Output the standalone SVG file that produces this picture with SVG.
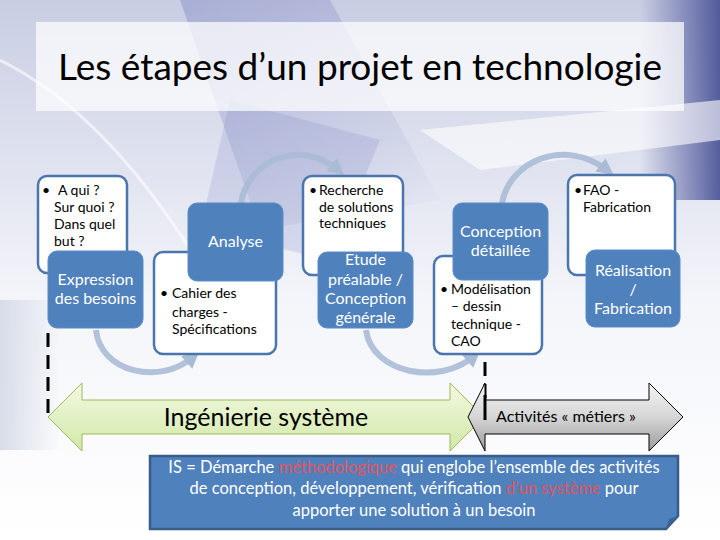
<svg xmlns="http://www.w3.org/2000/svg" width="720" height="540" viewBox="0 0 720 540">
<defs>
<linearGradient id="bg" x1="0" y1="0" x2="0" y2="1">
<stop offset="0" stop-color="#c9cde3"/>
<stop offset="0.3" stop-color="#dfe2ef"/>
<stop offset="0.55" stop-color="#f4f5fa"/>
<stop offset="1" stop-color="#ffffff"/>
</linearGradient>
<linearGradient id="streak" x1="0" y1="0" x2="1" y2="1">
<stop offset="0" stop-color="#6f78bb" stop-opacity="0.6"/>
<stop offset="1" stop-color="#6f78bb" stop-opacity="0"/>
</linearGradient>
<linearGradient id="tr" x1="1" y1="0" x2="0" y2="0">
<stop offset="0" stop-color="#3d4690" stop-opacity="0.85"/>
<stop offset="1" stop-color="#3d4690" stop-opacity="0"/>
</linearGradient>
<linearGradient id="lf" x1="0" y1="0" x2="1" y2="0">
<stop offset="0" stop-color="#d4d9e6" stop-opacity="0.9"/>
<stop offset="1" stop-color="#d4d9e6" stop-opacity="0"/>
</linearGradient>
<linearGradient id="green" x1="0" y1="0" x2="0" y2="1">
<stop offset="0" stop-color="#f3f9e2"/>
<stop offset="1" stop-color="#d2e8a8"/>
</linearGradient>
<linearGradient id="gray" x1="0" y1="0" x2="0" y2="1">
<stop offset="0" stop-color="#f4f4f4"/>
<stop offset="0.5" stop-color="#d6d6d6"/>
<stop offset="1" stop-color="#9a9a9a"/>
</linearGradient>
<marker id="ah" viewBox="0 0 10 10" refX="5" refY="5" markerWidth="2.8" markerHeight="2.8" orient="auto" markerUnits="strokeWidth">
<path d="M0,0 L10,5 L0,10 z" fill="#aabbd6"/>
</marker>
</defs>
<style>
.t{font-family:Lato,"Liberation Sans",sans-serif}
.bul{fill:#ffffff;stroke:#4a76ad;stroke-width:2.5}
.node{fill:#4f81bd;stroke:#5b8bc5;stroke-width:1}
.bt{font-size:14px;fill:#000}
.nt{font-size:16px;fill:#ffffff;text-anchor:middle}
.arc{fill:none;stroke:#aabbd6;stroke-width:6;stroke-opacity:0.9}
.dash{stroke:#000;stroke-width:3;stroke-dasharray:14 8}
</style>
<rect width="720" height="540" fill="url(#bg)"/>
<polygon points="180,0 330,0 440,200 260,230" fill="url(#streak)" opacity="0.6"/>
<polygon points="230,100 380,140 330,260 200,230" fill="#7a82c2" opacity="0.2"/>
<rect x="640" y="0" width="80" height="200" fill="url(#tr)"/>
<polygon points="420,130 720,100 720,140 480,170" fill="#ffffff" opacity="0.6"/>
<path d="M0,60 Q120,120 220,300" fill="none" stroke="#ffffff" stroke-width="3" opacity="0.6"/>
<rect x="0" y="300" width="60" height="150" fill="url(#lf)"/>
<g id="title">
<rect x="36" y="22" width="648" height="89" fill="#ffffff" fill-opacity="0.72"/>
<text class="t" x="360" y="80" font-size="37" text-anchor="middle" fill="#000">Les étapes d’un projet en technologie</text>
</g>
<g id="connectors">
<path class="arc" d="M241,203 C248,160 300,138 338,170" marker-end="url(#ah)"/>
<path class="arc" d="M502,203 C510,160 565,138 607,170" marker-end="url(#ah)"/>
<path class="arc" d="M96,330 C100,372 160,386 193,357" marker-end="url(#ah)"/>
<path class="arc" d="M366,330 C372,374 440,386 474,356" marker-end="url(#ah)"/>
<line class="dash" x1="48" y1="333" x2="48" y2="414"/>
<line class="dash" x1="485" y1="340" x2="485" y2="400"/>
</g>
<g id="bullet1">
<rect class="bul" x="38" y="176" width="89" height="97" rx="9"/>
<text class="t bt" x="42" y="195">•</text>
<text class="t bt" x="58" y="195">A qui ?</text>
<text class="t bt" x="54" y="212">Sur quoi ?</text>
<text class="t bt" x="54" y="229">Dans quel</text>
<text class="t bt" x="54" y="246">but ?</text>
</g>
<g id="expression">
<rect class="node" x="48" y="251" width="95" height="77" rx="9"/>
<text class="t nt" x="95.5" y="285">Expression</text>
<text class="t nt" x="95.5" y="304">des besoins</text>
</g>
<g id="bullet2">
<rect class="bul" x="154" y="252" width="122" height="102" rx="9"/>
<text class="t bt" x="160" y="298">•</text>
<text class="t bt" x="172" y="298">Cahier des</text>
<text class="t bt" x="172" y="317">charges  -</text>
<text class="t bt" x="172" y="334">Spécifications</text>
</g>
<g id="analyse">
<rect class="node" x="188" y="203" width="95" height="78" rx="9"/>
<text class="t nt" x="235.5" y="247">Analyse</text>
</g>
<g id="bullet3">
<rect class="bul" x="303" y="176" width="100" height="99" rx="9"/>
<text class="t bt" x="309" y="195">•</text>
<text class="t bt" x="319" y="195">Recherche</text>
<text class="t bt" x="319" y="212">de solutions</text>
<text class="t bt" x="319" y="228">techniques</text>
</g>
<g id="etude">
<rect class="node" x="318" y="252" width="95" height="76" rx="9"/>
<text class="t nt" x="365.5" y="265">Etude</text>
<text class="t nt" x="365.5" y="285">préalable /</text>
<text class="t nt" x="365.5" y="304">Conception</text>
<text class="t nt" x="365.5" y="323">générale</text>
</g>
<g id="bullet4">
<rect class="bul" x="434" y="256" width="108" height="98" rx="9"/>
<text class="t bt" x="440" y="294">•</text>
<text class="t bt" x="451" y="294">Modélisation</text>
<text class="t bt" x="451" y="311">– dessin</text>
<text class="t bt" x="451" y="329">technique -</text>
<text class="t bt" x="451" y="346">CAO</text>
</g>
<g id="conception">
<rect class="node" x="453" y="203" width="95" height="77" rx="9"/>
<text class="t nt" x="500.5" y="237">Conception</text>
<text class="t nt" x="500.5" y="256">détaillée</text>
</g>
<g id="bullet5">
<rect class="bul" x="568" y="175" width="107" height="100" rx="9"/>
<text class="t bt" x="574" y="195">•</text>
<text class="t bt" x="583" y="195">FAO -</text>
<text class="t bt" x="583" y="212">Fabrication</text>
</g>
<g id="realisation">
<rect class="node" x="586" y="250" width="94" height="77" rx="9"/>
<text class="t nt" x="633" y="276">Réalisation</text>
<text class="t nt" x="633" y="295">/</text>
<text class="t nt" x="633" y="314">Fabrication</text>
</g>
<g id="ingenierie">
<polygon points="48,417 82,383 82,400 450,400 450,383 484,417 450,451 450,434 82,434 82,451" fill="url(#green)" stroke="#9bbb59" stroke-width="1"/>
<text class="t" x="266" y="426" font-size="25" text-anchor="middle" fill="#000">Ingénierie système</text>
</g>
<g id="metiers">
<polygon points="468,417 485,383 485,400 649,400 649,383 683,417 649,451 649,434 485,434 485,451" fill="url(#gray)" stroke="#000" stroke-width="1"/>
<text class="t" x="566" y="422" font-size="16" text-anchor="middle" fill="#000">Activités « métiers »</text>
</g>
<line x1="485" y1="395" x2="485" y2="420" stroke="#000" stroke-width="3"/>
<g id="is-note">
<path d="M150,456 L678,456 L678,516 L666,529 L150,529 Z" fill="#4f81bd" stroke="#385d8a" stroke-width="2.5"/>
<path d="M666,529 L669,519 L678,516 Z" fill="#3b6596"/>
<text class="t" x="414" y="473" font-size="16.5" text-anchor="middle" fill="#ffffff">IS = Démarche <tspan fill="#e2545e">méthodologique</tspan> qui englobe l’ensemble des activités</text>
<text class="t" x="414" y="494" font-size="16.5" text-anchor="middle" fill="#ffffff">de conception, développement, vérification <tspan fill="#e2545e">d’un système</tspan> pour</text>
<text class="t" x="414" y="516" font-size="16.5" text-anchor="middle" fill="#ffffff">apporter une solution à un besoin</text>
</g>
</svg>
